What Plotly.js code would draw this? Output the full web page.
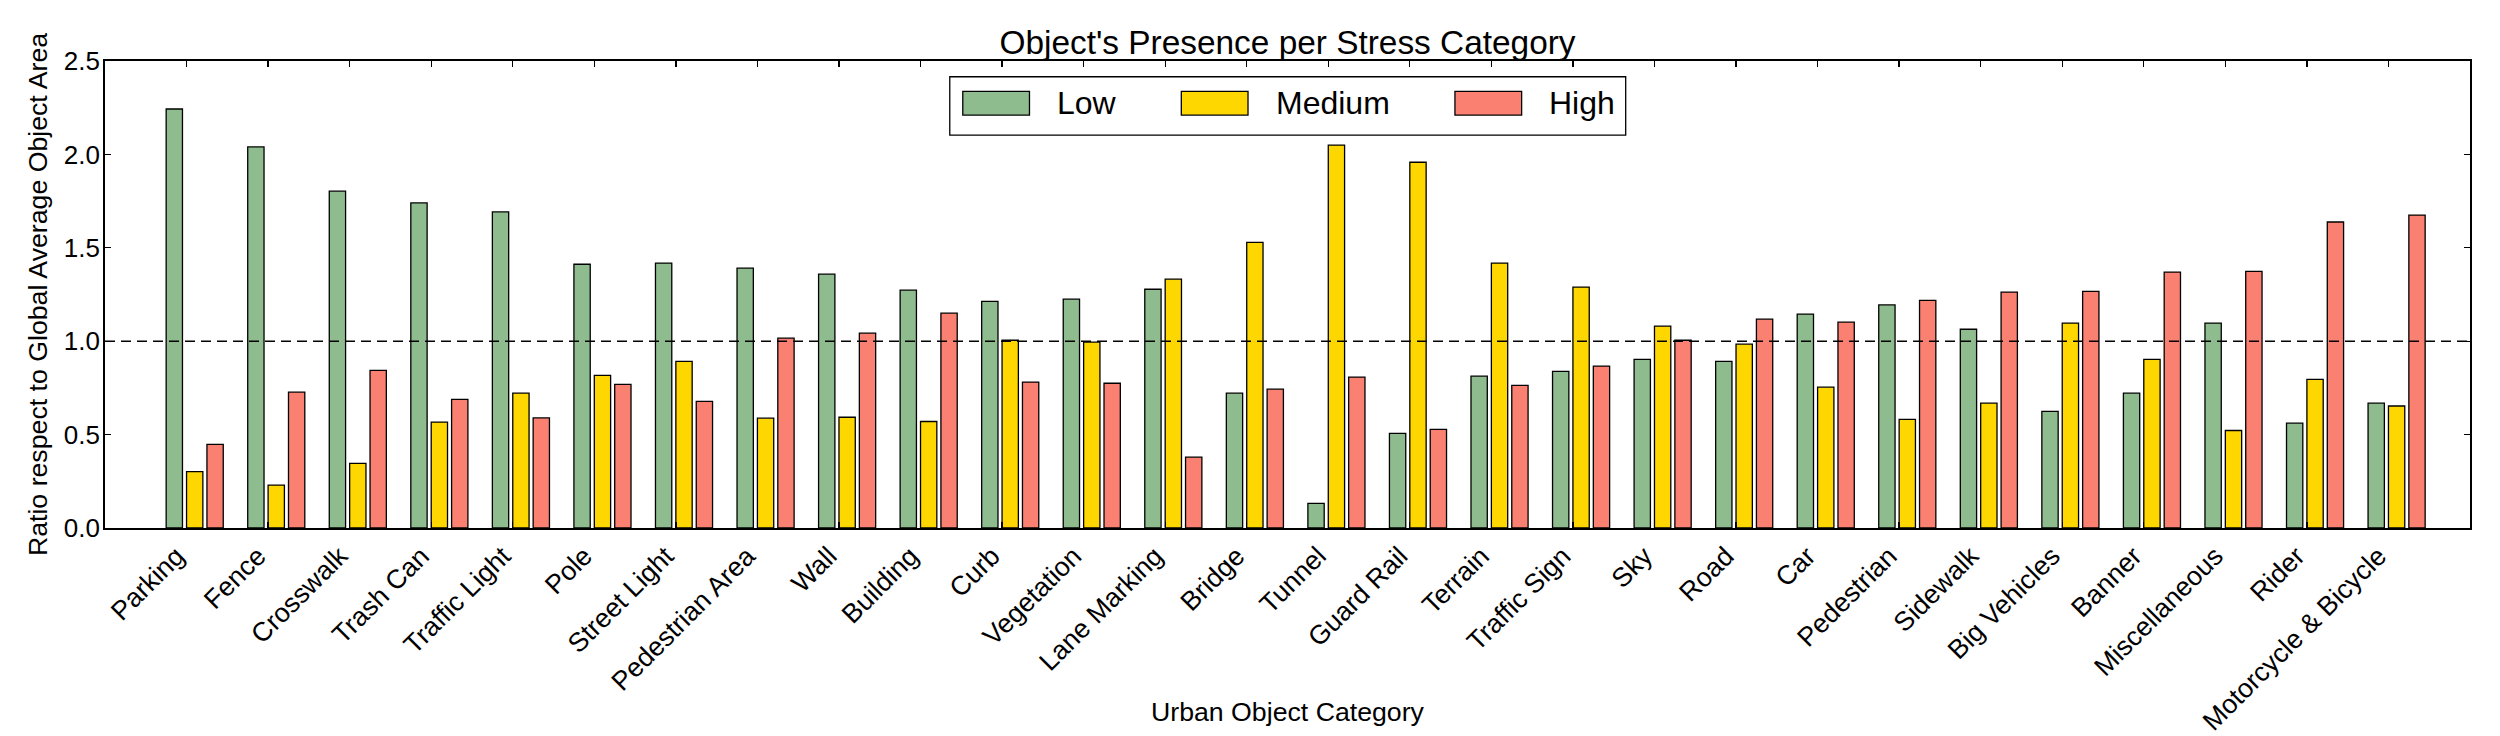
<!DOCTYPE html>
<html>
<head>
<meta charset="utf-8">
<script src="https://cdn.plot.ly/plotly-3.0.1.min.js"></script>
<style>
  html, body { margin: 0; padding: 0; background: #fff; }
  #graph { width: 2500px; height: 736px; }
</style>
</head>
<body>
<div id="graph"></div>
<script>
// urban object categories, in plotted order
var categories = [
  "Parking", "Fence", "Crosswalk", "Trash Can", "Traffic Light", "Pole",
  "Street Light", "Pedestrian Area", "Wall", "Building", "Curb", "Vegetation",
  "Lane Marking", "Bridge", "Tunnel", "Guard Rail", "Terrain", "Traffic Sign",
  "Sky", "Road", "Car", "Pedestrian", "Sidewalk", "Big Vehicles", "Banner",
  "Miscellaneous", "Rider", "Motorcycle & Bicycle"
];

// ratio respect to global average object area, per stress level
var lowValues = [
  2.243, 2.040, 1.803, 1.740, 1.692, 1.412, 1.418, 1.391, 1.359, 1.273,
  1.213, 1.225, 1.278, 0.722, 0.132, 0.507, 0.813, 0.838, 0.903, 0.892,
  1.145, 1.194, 1.064, 0.624, 0.722, 1.097, 0.561, 0.668
];
var mediumValues = [
  0.302, 0.230, 0.346, 0.567, 0.722, 0.817, 0.892, 0.588, 0.593, 0.570,
  1.005, 0.995, 1.332, 1.529, 2.050, 1.958, 1.418, 1.290, 1.081, 0.984,
  0.754, 0.582, 0.668, 1.097, 0.903, 0.522, 0.796, 0.653
];
var highValues = [
  0.448, 0.727, 0.844, 0.689, 0.589, 0.769, 0.678, 1.016, 1.043, 1.150,
  0.781, 0.775, 0.379, 0.743, 0.808, 0.528, 0.764, 0.867, 1.005, 1.118,
  1.102, 1.219, 1.263, 1.267, 1.370, 1.374, 1.638, 1.675
];

var seriesNames = ["Low", "Medium", "High"];
var seriesColors = ["#8FBC8F", "#FFD700", "#FA8072"];
var seriesOffsets = [-0.25, 0, 0.25];
var referenceLevel = 1.0;

var font = "Liberation Sans, Arial, sans-serif";
var values = [lowValues, mediumValues, highValues];

var data = [];
for (var i = 0; i < seriesNames.length; i++) {
  data.push({
    type: "bar",
    name: seriesNames[i],
    x: categories,
    y: values[i],
    width: 0.2,
    offset: seriesOffsets[i],
    marker: { color: seriesColors[i], line: { color: "#000", width: 1.3 } },
    showlegend: false
  });
}

// hand made legend box (matplotlib style, big swatches)
var shapes = [
  {
    type: "line", xref: "paper", yref: "y",
    x0: 0, x1: 1, y0: referenceLevel, y1: referenceLevel,
    line: { color: "#000", width: 1.6, dash: "10px,6px" }
  },
  {
    type: "rect", xref: "paper", yref: "paper",
    x0: 0.3572, x1: 0.6430, y0: 0.8414, y1: 0.9663,
    fillcolor: "#fff", line: { color: "#000", width: 1.3 }
  }
];
var annotations = [];
var swatchX = [0.3627, 0.4551, 0.5708];
for (var k = 0; k < seriesNames.length; k++) {
  shapes.push({
    type: "rect", xref: "paper", yref: "paper",
    x0: swatchX[k], x1: swatchX[k] + 0.0282, y0: 0.8842, y1: 0.9349,
    fillcolor: seriesColors[k], line: { color: "#000", width: 1.3 }
  });
  annotations.push({
    xref: "paper", yref: "paper", x: swatchX[k] + 0.039, y: 0.9095,
    xanchor: "left", yanchor: "middle", showarrow: false,
    text: seriesNames[k], font: { family: font, size: 32, color: "#000" }
  });
}
annotations.push({
  xref: "paper", yref: "paper", x: 0.5, y: 0, yshift: -184,
  xanchor: "center", yanchor: "middle", showarrow: false,
  text: "Urban Object Category", font: { family: font, size: 26.7, color: "#000" }
});

var layout = {
  width: 2500,
  height: 736,
  margin: { l: 105, r: 30, t: 61, b: 208 },
  paper_bgcolor: "#fff",
  plot_bgcolor: "#fff",
  font: { family: font, color: "#000" },
  title: {
    text: "Object's Presence per Stress Category",
    font: { family: font, size: 33.4, color: "#000" },
    xref: "paper", x: 0.5, xanchor: "center",
    yref: "container", y: 0.943, yanchor: "middle"
  },
  barmode: "overlay",
  xaxis: {
    type: "category",
    range: [-1, 28],
    tickangle: -45,
    tickfont: { family: font, size: 26.7, color: "#000" },
    ticklabelshift: -10,
    ticks: "inside", ticklen: 6, tickcolor: "#000", tickwidth: 1.3,
    showline: true, linecolor: "#000", linewidth: 1.8, mirror: "ticks",
    showgrid: false, zeroline: false
  },
  yaxis: {
    range: [0, 2.5],
    dtick: 0.5,
    tickformat: ".1f",
    tickfont: { family: font, size: 26, color: "#000" },
    ticklabelstandoff: -2,
    ticks: "inside", ticklen: 6, tickcolor: "#000", tickwidth: 1.3,
    showline: true, linecolor: "#000", linewidth: 1.8, mirror: "ticks",
    showgrid: false, zeroline: false,
    title: {
      text: "Ratio respect to Global Average Object Area",
      font: { family: font, size: 26.7, color: "#000" },
      standoff: 8
    },
    automargin: true
  },
  shapes: shapes,
  annotations: annotations
};

Plotly.newPlot("graph", data, layout, { displayModeBar: false, staticPlot: true });
</script>
</body>
</html>
